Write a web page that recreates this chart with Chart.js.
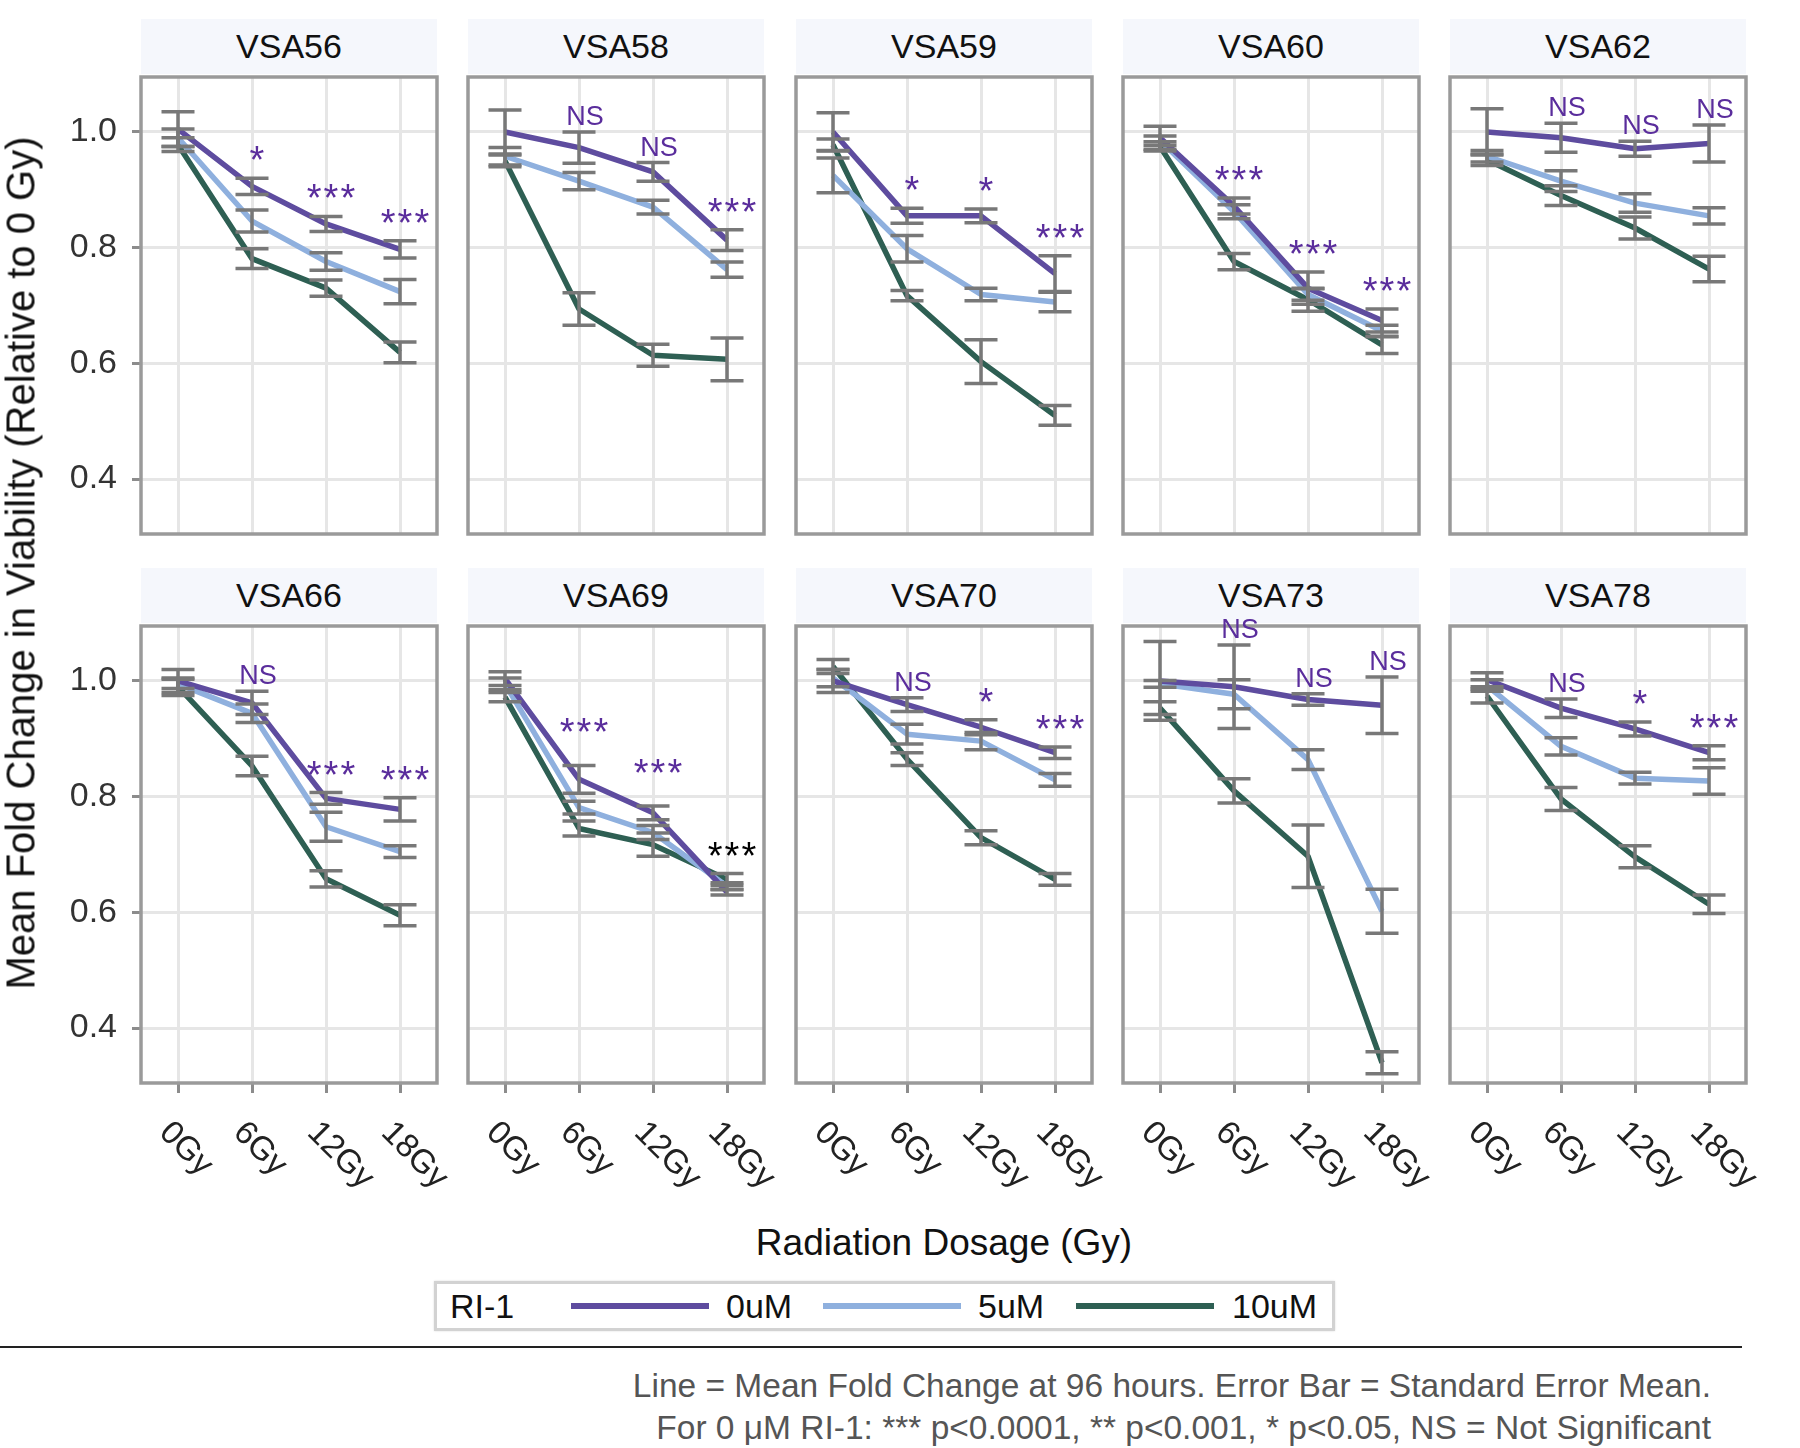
<!DOCTYPE html>
<html>
<head>
<meta charset="utf-8">
<script src="https://cdn.jsdelivr.net/npm/chart.js@4.4.1/dist/chart.umd.min.js"></script>
<style>
  body { margin: 0; background: #fff; font-family: 'Liberation Sans', Arial, sans-serif; }
  #wrap { position: relative; width: 1800px; height: 1448px; overflow: hidden; }
  #wrap canvas { position: absolute; }
  .strip { position: absolute; background: #f5f7fc; text-align: center; font-size: 34px; color: #111; }
  .abs { position: absolute; white-space: nowrap; }
</style>
</head>
<body>
<div id="wrap"></div>
<script>
const panels = ['VSA56', 'VSA58', 'VSA59', 'VSA60', 'VSA62', 'VSA66', 'VSA69', 'VSA70', 'VSA73', 'VSA78'];
const doses = ['0Gy', '6Gy', '12Gy', '18Gy'];
const groups = ['0uM', '5uM', '10uM'];
const yTicks = [0.4, 0.6, 0.8, 1.0];

// mean fold change, one row per panel, one value per dose
const mean0uM = [
  [1.005, 0.906, 0.841, 0.797],
  [1.000, 0.973, 0.931, 0.813],
  [1.000, 0.855, 0.855, 0.755],
  [0.990, 0.872, 0.730, 0.674],
  [1.000, 0.990, 0.971, 0.980],
  [1.000, 0.962, 0.797, 0.778],
  [1.004, 0.830, 0.772, 0.635],
  [1.000, 0.959, 0.920, 0.876],
  [1.000, 0.990, 0.968, 0.958],
  [1.002, 0.953, 0.917, 0.876]
];
const mean5uM = [
  [0.990, 0.846, 0.776, 0.724],
  [0.958, 0.915, 0.870, 0.762],
  [0.925, 0.798, 0.719, 0.706],
  [0.985, 0.862, 0.719, 0.656],
  [0.958, 0.915, 0.877, 0.855],
  [0.995, 0.944, 0.748, 0.705],
  [0.995, 0.781, 0.738, 0.645],
  [1.005, 0.908, 0.896, 0.829],
  [0.995, 0.977, 0.864, 0.602],
  [0.992, 0.887, 0.832, 0.827]
];
const mean10uM = [
  [0.978, 0.781, 0.730, 0.619],
  [0.950, 0.694, 0.614, 0.607],
  [0.978, 0.717, 0.603, 0.510],
  [0.975, 0.776, 0.710, 0.632],
  [0.952, 0.890, 0.834, 0.763],
  [0.990, 0.853, 0.658, 0.595],
  [0.972, 0.745, 0.717, 0.657],
  [1.025, 0.865, 0.729, 0.657],
  [0.953, 0.810, 0.697, 0.340],
  [0.974, 0.796, 0.696, 0.614]
];
// standard error of the mean
const sem0uM = [
  [0.030, 0.014, 0.013, 0.015],
  [0.038, 0.027, 0.016, 0.018],
  [0.033, 0.013, 0.012, 0.031],
  [0.020, 0.014, 0.028, 0.020],
  [0.040, 0.025, 0.013, 0.032],
  [0.020, 0.020, 0.010, 0.020],
  [0.012, 0.024, 0.012, 0.005],
  [0.020, 0.012, 0.013, 0.010],
  [0.068, 0.072, 0.010, 0.049],
  [0.012, 0.016, 0.012, 0.012]
];
const sem5uM = [
  [0.015, 0.019, 0.015, 0.021],
  [0.015, 0.015, 0.012, 0.013],
  [0.030, 0.023, 0.011, 0.017],
  [0.008, 0.012, 0.010, 0.010],
  [0.010, 0.018, 0.016, 0.014],
  [0.008, 0.016, 0.025, 0.010],
  [0.010, 0.011, 0.012, 0.006],
  [0.015, 0.017, 0.015, 0.011],
  [0.006, 0.025, 0.017, 0.038],
  [0.010, 0.015, 0.010, 0.023]
];
const sem10uM = [
  [0.012, 0.017, 0.014, 0.018],
  [0.010, 0.028, 0.019, 0.037],
  [0.010, 0.009, 0.038, 0.017],
  [0.008, 0.014, 0.020, 0.015],
  [0.010, 0.017, 0.019, 0.022],
  [0.015, 0.017, 0.014, 0.018],
  [0.008, 0.013, 0.020, 0.010],
  [0.012, 0.011, 0.012, 0.010],
  [0.011, 0.021, 0.054, 0.019],
  [0.012, 0.020, 0.019, 0.016]
];
// significance for 0uM at each dose
const sigLabels = [
  ['', '*', '***', '***'],
  ['', 'NS', 'NS', '***'],
  ['', '*', '*', '***'],
  ['', '***', '***', '***'],
  ['', 'NS', 'NS', 'NS'],
  ['', 'NS', '***', '***'],
  ['', '***', '***', '***'],
  ['', 'NS', '*', '***'],
  ['', 'NS', 'NS', 'NS'],
  ['', 'NS', '*', '***']
];

const means = [mean0uM, mean5uM, mean10uM];
const sems = [sem0uM, sem5uM, sem10uM];
const colors = ['#5e4c9f', '#8fb0de', '#2e5f53'];
const FONT = "'Liberation Sans', Arial, sans-serif";
const sigColor = '#5a2d9c';
const blackSig = { 6: [3] }; // VSA69 18Gy label is black
const sigLift = { 6: 15 };    // VSA69 labels sit higher

const colLeft = [141, 468, 796, 1123, 1450];
const rowTop = [77, 626];
const stripTop = [19, 568];
const plotW = 296, plotH = 457;

const wrap = document.getElementById('wrap');

function addText(txt, css) {
  const d = document.createElement('div');
  d.className = 'abs';
  d.textContent = txt;
  Object.assign(d.style, css);
  wrap.appendChild(d);
  return d;
}

const decor = {
  id: 'decor',
  afterDatasetsDraw(chart, args, opts) {
    const i = opts.index, row = opts.row;
    const { ctx, chartArea: a, scales: { x, y } } = chart;
    ctx.save();
    // error bars
    ctx.strokeStyle = '#787878';
    ctx.lineWidth = 3.5;
    for (let g = 2; g >= 0; g--) {
      for (let d = 0; d < doses.length; d++) {
        const m = means[g][i][d], s = sems[g][i][d];
        const px = x.getPixelForValue(d);
        const y1 = y.getPixelForValue(m + s), y2 = y.getPixelForValue(m - s);
        ctx.beginPath();
        ctx.moveTo(px, y1); ctx.lineTo(px, y2);
        ctx.moveTo(px - 16.5, y1); ctx.lineTo(px + 16.5, y1);
        ctx.moveTo(px - 16.5, y2); ctx.lineTo(px + 16.5, y2);
        ctx.stroke();
      }
    }
    // panel border
    ctx.strokeStyle = '#9a9a9a';
    ctx.lineWidth = 3.5;
    ctx.strokeRect(a.left, a.top, a.right - a.left, a.bottom - a.top);
    // significance labels
    ctx.textAlign = 'center';
    ctx.textBaseline = 'alphabetic';
    sigLabels[i].forEach((lab, d) => {
      if (!lab) return;
      const star = lab[0] === '*';
      const top = y.getPixelForValue(mean0uM[i][d] + sem0uM[i][d]) - (sigLift[i] || 0);
      ctx.fillStyle = (blackSig[i] || []).includes(d) ? '#000' : sigColor;
      ctx.font = (star ? 38 : 27) + 'px ' + FONT;
      ctx.letterSpacing = star ? '2px' : '0px';
      ctx.fillText(lab, x.getPixelForValue(d) + 6, top + (star ? -5 : -7));
    });
    ctx.letterSpacing = '0px';
    // rotated dose labels under bottom row
    if (row === 1) {
      ctx.fillStyle = '#222';
      ctx.font = '33px ' + FONT;
      ctx.textAlign = 'left';
      ctx.textBaseline = 'top';
      doses.forEach((lab, d) => {
        ctx.save();
        ctx.translate(x.getPixelForValue(d) - 2, a.bottom + 33);
        ctx.rotate(Math.PI / 4);
        ctx.fillText(lab, 0, 0);
        ctx.restore();
      });
    }
    ctx.restore();
  }
};

panels.forEach((name, i) => {
  const col = i % 5, row = Math.floor(i / 5);
  const padL = col === 0 ? colLeft[0] : 20, padT = 45, padR = 30, padB = row === 1 ? 125 : 60;
  const cv = document.createElement('canvas');
  cv.width = plotW + padL + padR;
  cv.height = plotH + padT + padB;
  cv.style.left = (colLeft[col] - padL) + 'px';
  cv.style.top = (rowTop[row] - padT) + 'px';

  const strip = document.createElement('div');
  strip.className = 'strip';
  Object.assign(strip.style, {
    left: colLeft[col] + 'px', top: stripTop[row] + 'px',
    width: plotW + 'px', height: '55px', lineHeight: '55px'
  });
  strip.textContent = name;
  wrap.appendChild(strip);
  wrap.appendChild(cv);

  new Chart(cv, {
    type: 'line',
    data: {
      labels: doses,
      datasets: groups.map((g, k) => ({
        label: g,
        data: means[k][i],
        borderColor: colors[k],
        borderWidth: 5.5,
        pointRadius: 0,
        tension: 0,
        borderJoinStyle: 'round'
      }))
    },
    options: {
      responsive: false,
      animation: false,
      events: [],
      layout: { padding: { left: col === 0 ? 0 : padL, right: padR, top: padT, bottom: 0 } },
      plugins: {
        legend: { display: false },
        tooltip: { enabled: false },
        decor: { index: i, row: row }
      },
      scales: {
        x: {
          type: 'category',
          offset: true,
          border: { display: false },
          grid: { color: '#e6e6e6', lineWidth: 3, offset: false, drawTicks: row === 1, tickLength: 10, tickColor: '#8c8c8c', tickWidth: 3 },
          ticks: { display: false },
          afterFit: s => { s.height = padB; }
        },
        y: {
          min: 0.305,
          max: 1.095,
          bounds: 'data',
          afterBuildTicks: s => { s.ticks = yTicks.map(v => ({ value: v })); },
          border: { display: false },
          grid: { color: '#e6e6e6', lineWidth: 3, drawTicks: col === 0, tickLength: 9, tickColor: '#8c8c8c', tickWidth: 3 },
          ticks: { display: col === 0, padding: 15, color: '#333', font: { size: 34, family: FONT }, callback: v => v.toFixed(1) },
          afterFit: s => { s.width = col === 0 ? padL : 0; }
        }
      }
    },
    plugins: [decor]
  });
});

// axis titles
addText('Mean Fold Change in Viability (Relative to 0 Gy)', {
  left: '21px', top: '563px', fontSize: '40px', color: '#111',
  transform: 'translate(-50%, -50%) rotate(-90deg)'
});
addText('Radiation Dosage (Gy)', {
  left: '944px', top: '1243px', fontSize: '37px', color: '#111',
  transform: 'translate(-50%, -50%)'
});

// legend
const box = document.createElement('div');
Object.assign(box.style, {
  position: 'absolute', left: '434px', top: '1281px', width: '895px', height: '44px',
  border: '3px solid #d2d2d2', boxShadow: '0 0 2px #ddd'
});
wrap.appendChild(box);
addText('RI-1', { left: '450px', top: '1306px', fontSize: '34px', color: '#111', transform: 'translateY(-50%)' });
const legLine = [571, 823, 1076], legText = [726, 978, 1232];
groups.forEach((g, k) => {
  const ln = document.createElement('div');
  Object.assign(ln.style, {
    position: 'absolute', left: legLine[k] + 'px', top: '1303px', width: '138px', height: '6px', background: colors[k]
  });
  wrap.appendChild(ln);
  addText(g, { left: legText[k] + 'px', top: '1306px', fontSize: '34px', color: '#111', transform: 'translateY(-50%)' });
});

// rule and footnote
const rule = document.createElement('div');
Object.assign(rule.style, { position: 'absolute', left: '0px', top: '1346px', width: '1742px', height: '2px', background: '#222' });
wrap.appendChild(rule);
addText('Line = Mean Fold Change at 96 hours. Error Bar = Standard Error Mean.', {
  right: '89px', top: '1368px', fontSize: '33.5px', lineHeight: '36px', color: '#555'
});
addText('For 0 \u03bcM RI-1: *** p<0.0001, ** p<0.001, * p<0.05, NS = Not Significant', {
  right: '89px', top: '1410px', fontSize: '33.5px', lineHeight: '36px', color: '#555'
});
</script>
</body>
</html>
